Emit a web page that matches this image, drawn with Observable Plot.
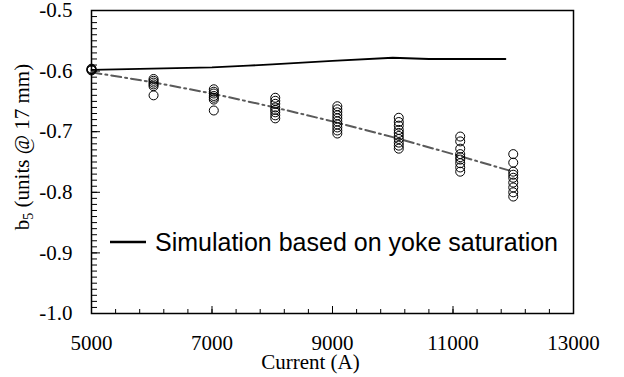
<!DOCTYPE html>
<html><head><meta charset="utf-8">
<script src="https://cdn.jsdelivr.net/npm/d3@7"></script>
<script src="https://cdn.jsdelivr.net/npm/@observablehq/plot@0.6"></script>
<style>body{margin:0;background:#fff}#chart{width:624px;height:377px}</style>
</head><body><div id="chart"></div>
<script>
// Simulation based on yoke saturation (solid line)
const simCurrent = [5000, 6000, 7000, 7600, 8000, 9000, 10000, 10600, 11870];
const simB5 = [-0.598, -0.596, -0.594, -0.591, -0.589, -0.583, -0.578, -0.580, -0.580];
// Dash-dot fit through measurements
const fitCurrent = [5000, 6000, 7000, 8000, 9000, 10000, 11000, 12000];
const fitB5 = [-0.602, -0.618, -0.637, -0.659, -0.683, -0.709, -0.737, -0.766];
// Measured points (circles), grouped by current
const groupCurrents = [5000, 6030, 7030, 8050, 9080, 10100, 11120, 12000];
const groupB5 = [
  [-0.596, -0.597, -0.598, -0.599],
  [-0.613, -0.616, -0.619, -0.622, -0.625, -0.640],
  [-0.630, -0.634, -0.637, -0.641, -0.644, -0.647, -0.665],
  [-0.644, -0.649, -0.654, -0.660, -0.664, -0.668, -0.673, -0.678],
  [-0.658, -0.663, -0.668, -0.673, -0.678, -0.683, -0.688, -0.693, -0.698, -0.703],
  [-0.677, -0.684, -0.690, -0.697, -0.702, -0.707, -0.712, -0.718, -0.723, -0.728],
  [-0.708, -0.716, -0.728, -0.737, -0.742, -0.746, -0.752, -0.759, -0.766],
  [-0.737, -0.751, -0.766, -0.771, -0.776, -0.784, -0.792, -0.800, -0.807]
];
// Axis ticks
const xTickLabels = [5000, 7000, 9000, 11000, 13000];
const yTickLabels = [-1.0, -0.9, -0.8, -0.7, -0.6, -0.5];
const xMinorTicks = d3.range(5000, 13001, 400);
const yMinorTicks = d3.range(0, 51).map(i => -1 + i * 0.01);
const xTitle = "Current (A)";
const legendLabel = "Simulation based on yoke saturation";

const sim = simCurrent.map((c, i) => ({current: c, b5: simB5[i]}));
const fit = fitCurrent.map((c, i) => ({current: c, b5: fitB5[i]}));
const meas = groupCurrents.flatMap((c, i) => groupB5[i].map(v => ({current: c, b5: v})));

const serif = "Liberation Serif";
const plot = Plot.plot({
  width: 624, height: 377,
  marginLeft: 91, marginRight: 51, marginTop: 10, marginBottom: 64,
  x: {domain: [5000, 13000], label: null},
  y: {domain: [-1.0, -0.5], label: null},
  style: {fontFamily: "'Liberation Serif', serif", fontSize: "21px", color: "#000", background: "#fff", overflow: "visible"},
  marks: [
    Plot.axisX({ticks: xMinorTicks, tickSize: 4, dy: -4, tickFormat: () => "", label: null}),
    Plot.axisX({ticks: xTickLabels, tickSize: 7, dy: -7, tickFormat: () => "", label: null}),
    Plot.axisX({ticks: xTickLabels, tickSize: 0, tickPadding: 22, tickFormat: d => String(d), label: null, fontSize: 21, fontFamily: serif, fontWeight: "normal", fontVariant: "normal"}),
    Plot.axisY({ticks: yMinorTicks, tickSize: 6, dx: 6, tickFormat: () => "", label: null}),
    Plot.axisY({ticks: yTickLabels, tickSize: 9, dx: 9, tickFormat: () => "", label: null}),
    Plot.axisY({ticks: yTickLabels, tickSize: 0, tickPadding: 19, tickFormat: d => d.toFixed(1), label: null, fontSize: 21, fontFamily: serif, fontWeight: "normal", fontVariant: "normal"}),
    Plot.frame({stroke: "#000", strokeWidth: 1.5}),
    Plot.line(fit, {x: "current", y: "b5", stroke: "#5a5a5a", strokeWidth: 2, strokeDasharray: "10,4,2,4"}),
    Plot.line(sim, {x: "current", y: "b5", stroke: "#000", strokeWidth: 1.8}),
    Plot.dot(meas, {x: "current", y: "b5", r: 4.5, stroke: "#000", strokeWidth: 1, fill: "none"}),
    Plot.text([xTitle], {frameAnchor: "bottom", dx: -22, dy: 55, fontSize: 21, fontFamily: serif, fill: "#000"})
  ]
});
document.getElementById("chart").appendChild(plot);

const ns = "http://www.w3.org/2000/svg";
// y-axis title with subscript
const yt = document.createElementNS(ns, "text");
yt.setAttribute("transform", "translate(29,147) rotate(-90)");
yt.setAttribute("text-anchor", "middle");
yt.setAttribute("font-family", serif);
yt.setAttribute("font-size", "21");
yt.setAttribute("fill", "#000");
const t1 = document.createElementNS(ns, "tspan"); t1.textContent = "b";
const t2 = document.createElementNS(ns, "tspan"); t2.textContent = "5"; t2.setAttribute("font-size", "14"); t2.setAttribute("dy", "4");
const t3 = document.createElementNS(ns, "tspan"); t3.textContent = " (units @ 17 mm)"; t3.setAttribute("dy", "-4");
yt.append(t1, t2, t3);
plot.appendChild(yt);
// legend
const lg = document.createElementNS(ns, "g");
const ll = document.createElementNS(ns, "line");
ll.setAttribute("x1", 110); ll.setAttribute("x2", 146); ll.setAttribute("y1", 242); ll.setAttribute("y2", 242);
ll.setAttribute("stroke", "#000"); ll.setAttribute("stroke-width", 2.5);
const lt = document.createElementNS(ns, "text");
lt.setAttribute("x", 155); lt.setAttribute("y", 242); lt.setAttribute("dy", "0.35em");
lt.setAttribute("text-anchor", "start");
lt.setAttribute("font-family", "'Liberation Sans', Arial, sans-serif");
lt.setAttribute("font-size", "25");
lt.setAttribute("fill", "#000");
lt.textContent = legendLabel;
lg.append(ll, lt);
plot.appendChild(lg);
</script>
</body></html>
